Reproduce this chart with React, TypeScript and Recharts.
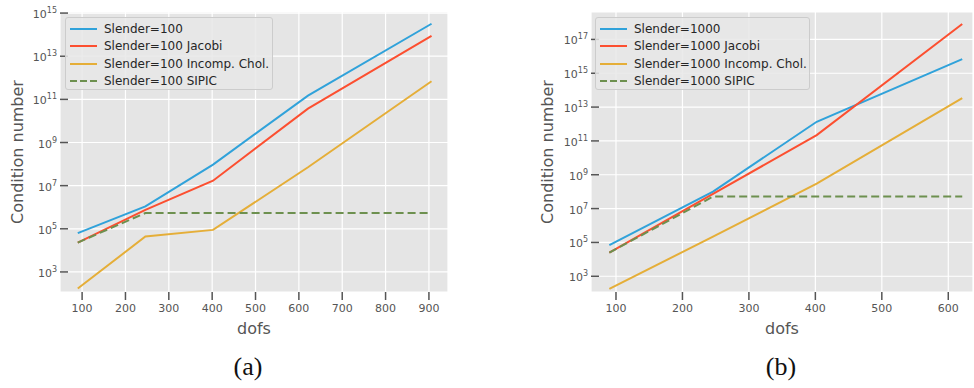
import React from 'react';
import { LineChart, Line, XAxis, YAxis, CartesianGrid, Legend, Label } from 'recharts';

// panel (a): slender = 100
const dofsA = [90, 246, 402, 621, 906];
const plainA = [6.3e4, 1.1e6, 9.5e7, 1.5e11, 3.2e14];
const jacobiA = [2.3e4, 7.6e5, 1.7e7, 3.7e10, 8.7e13];
const cholA = [1.7e2, 4.4e4, 8.9e4, 7.1e7, 6.9e11];
const sipicA = [2.3e4, 5.4e5, 5.4e5, 5.4e5, 5.4e5];

// panel (b): slender = 1000
const dofsB = [90, 246, 402, 621];
const plainB = [6.9e4, 1.0e8, 1.35e12, 6.8e15];
const jacobiB = [2.5e4, 7.4e7, 2.2e11, 8.1e17];
const cholB = [1.8e2, 2.2e5, 3.0e8, 3.4e13];
const sipicB = [2.5e4, 5.1e7, 5.1e7, 5.1e7];

const xTicksA = [100, 200, 300, 400, 500, 600, 700, 800, 900];
const xTicksB = [100, 200, 300, 400, 500, 600];
const yTicksA = [1e3, 1e5, 1e7, 1e9, 1e11, 1e13, 1e15];
const yTicksB = [1e3, 1e5, 1e7, 1e9, 1e11, 1e13, 1e15, 1e17];

const suffixes = ['', ' Jacobi', ' Incomp. Chol.', ' SIPIC'];
const colors = ['#30a2da', '#fc4f30', '#e5ae38', '#6d904f'];
const keys = ['plain', 'jacobi', 'chol', 'sipic'];

const FONT = '"DejaVu Sans", sans-serif';

const makeRows = (dofs: number[], a: number[], b: number[], c: number[], d: number[]) =>
  dofs.map((x, i) => ({ dofs: x, plain: a[i], jacobi: b[i], chol: c[i], sipic: d[i] }));

const PowTick = (props: any) => {
  const { x, y, payload } = props;
  const exp = Math.round(Math.log10(payload.value));
  return (
    <text x={x} y={y} dy={5} textAnchor="end" fill="#555" fontSize={11} fontFamily={FONT}>
      10<tspan dy={-5} fontSize={8}>{exp}</tspan>
    </text>
  );
};

const LegendBox = ({ slender, width }: { slender: string; width: number }) => (
  <div
    style={{
      width,
      height: 73,
      boxSizing: 'border-box',
      background: 'rgba(232,232,232,0.85)',
      border: '1px solid #cccccc',
      borderRadius: 3,
      paddingTop: 2,
      fontFamily: FONT,
      fontSize: 12,
      color: '#262626',
    }}
  >
    {suffixes.map((s, i) => (
      <div key={i} style={{ height: 17.5, display: 'flex', alignItems: 'center', whiteSpace: 'nowrap' }}>
        <svg width={38} height={10}>
          <line x1={4} x2={31} y1={5} y2={5} stroke={colors[i]} strokeWidth={2}
            strokeDasharray={i === 3 ? '7 3' : undefined} />
        </svg>
        <span>{'Slender=' + slender + s}</span>
      </div>
    ))}
  </div>
);

function Panel(props: {
  rows: any[]; width: number; xDomain: [number, number]; xTicks: number[];
  yDomain: [number, number]; yTicks: number[]; slender: string; legendWidth: number;
  marginRight: number; yWidth: number;
}) {
  const { rows, width, xDomain, xTicks, yDomain, yTicks, slender, legendWidth, marginRight, yWidth } = props;
  return (
    <LineChart width={width} height={340} data={rows}
      margin={{ top: 12, right: marginRight, bottom: 0, left: 10 }}>
      <CartesianGrid fill="#e5e5e5" stroke="#ffffff" strokeWidth={1.2} />
      <XAxis dataKey="dofs" type="number" domain={xDomain} ticks={xTicks} allowDataOverflow
        height={48} axisLine={false} tickSize={8} tickMargin={4}
        tickLine={{ stroke: '#555', strokeWidth: 1.5 }}
        tick={{ fill: '#555', fontSize: 11, fontFamily: FONT }}>
        <Label value="dofs" position="insideBottom" offset={6} fill="#555" fontSize={16} fontFamily={FONT} />
      </XAxis>
      <YAxis type="number" scale="log" domain={yDomain} ticks={yTicks} allowDataOverflow
        width={yWidth} axisLine={false} tickSize={-8} tickMargin={11}
        tickLine={{ stroke: '#555', strokeWidth: 1.5 }} tick={<PowTick />}>
        <Label
          content={({ viewBox }: any) => {
            const cy = viewBox.y + viewBox.height / 2;
            const cx = viewBox.x + 13;
            return (
              <text x={cx} y={cy} transform={`rotate(-90 ${cx} ${cy})`} textAnchor="middle"
                fill="#555" fontSize={16} fontFamily={FONT}>Condition number</text>
            );
          }}
        />
      </YAxis>
      <Legend layout="vertical" align="center" verticalAlign="middle"
        wrapperStyle={{ left: 65, top: 17, width: legendWidth }}
        content={() => <LegendBox slender={slender} width={legendWidth} />} />
      {keys.map((k, i) => (
        <Line key={k} dataKey={k} type="linear" stroke={colors[i]} strokeWidth={2} dot={false}
          activeDot={false} strokeDasharray={i === 3 ? '8 4' : undefined} isAnimationActive={false} />
      ))}
    </LineChart>
  );
}

export default function App() {
  const rowsA = makeRows(dofsA, plainA, jacobiA, cholA, sipicA);
  const rowsB = makeRows(dofsB, plainB, jacobiB, cholB, sipicB);
  const caption: React.CSSProperties = {
    position: 'absolute', top: 352, width: 60, textAlign: 'center',
    fontFamily: '"Liberation Serif", serif', fontSize: 26, color: '#111',
  };
  return (
    <div style={{ position: 'absolute', left: 0, top: 0, width: 974, height: 388, background: '#fff' }}>
      <div style={{ position: 'absolute', left: 0, top: 0 }}>
        <Panel rows={rowsA} width={460} xDomain={[49, 944]} xTicks={xTicksA}
          yDomain={[Math.pow(10, 2.07), Math.pow(10, 15.05)]} yTicks={yTicksA}
          slender="100" legendWidth={208} marginRight={12} yWidth={50} />
      </div>
      <div style={{ position: 'absolute', left: 530, top: 0 }}>
        <Panel rows={rowsB} width={444} xDomain={[62.4, 637.2]} xTicks={xTicksB}
          yDomain={[Math.pow(10, 2.07), Math.pow(10, 18.62)]} yTicks={yTicksB}
          slender="1000" legendWidth={215} marginRight={1} yWidth={51} />
      </div>
      <div style={{ ...caption, left: 218 }}>(a)</div>
      <div style={{ ...caption, left: 751 }}>(b)</div>
    </div>
  );
}
